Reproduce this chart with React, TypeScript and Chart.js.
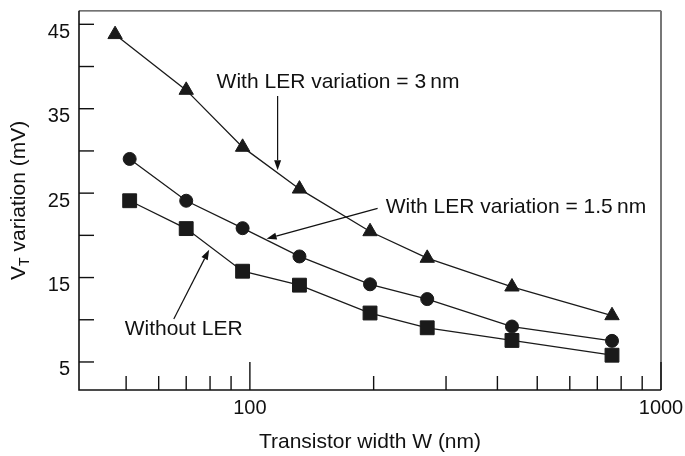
import React, { useEffect, useRef } from "react";
import { Chart, registerables } from "chart.js";

Chart.register(...registerables);

// Transistor widths W (nm)
const widthsTriangle = [47, 70, 96, 132, 196, 270, 434, 760];
const widths = [51, 70, 96, 132, 196, 270, 434, 760];

// VT variation (mV)
const ler3nm = [43.8, 37.2, 30.45, 25.5, 20.45, 17.3, 13.9, 10.5];
const ler15nm = [29.05, 24.1, 20.85, 17.5, 14.2, 12.45, 9.2, 7.5];
const noLer = [24.1, 20.8, 15.75, 14.1, 10.8, 9.05, 7.55, 5.8];

// Axis ticks
const yLabelTicks = [5, 15, 25, 35, 45];
const yMarkTicks = [5, 10, 15, 20, 25, 30, 35, 40, 45];
const xLabelTicks = [100, 1000];
const xMajorMarks = [100, 1000];
const xMinorMarks = [50, 60, 70, 80, 90, 200, 300, 400, 500, 600, 700, 800, 900];

// Annotations (data coordinates)
const noteTexts = ["With LER variation = 3\u2009nm", "With LER variation = 1.5\u2009nm", "Without LER"];
const noteX = [83, 214, 49.6];
const noteY = [38.2, 23.3, 8.85];
const arrowFromX = [116.8, 204.5, 65.3];
const arrowFromY = [36.5, 23.2, 10.1];
const arrowToX = [116.8, 109.8, 79.6];
const arrowToY = [27.7, 19.6, 18.3];

const FONT = '"Liberation Sans", Arial, Helvetica, sans-serif';
const INK = "#111";

function drawArrow(ctx: CanvasRenderingContext2D, x1: number, y1: number, x2: number, y2: number) {
  const ang = Math.atan2(y2 - y1, x2 - x1);
  const L = 10;
  const W = 3.5;
  const bx = x2 - Math.cos(ang) * L;
  const by = y2 - Math.sin(ang) * L;
  ctx.beginPath();
  ctx.moveTo(x1, y1);
  ctx.lineTo(bx, by);
  ctx.stroke();
  ctx.beginPath();
  ctx.moveTo(x2, y2);
  ctx.lineTo(bx - Math.sin(ang) * W, by + Math.cos(ang) * W);
  ctx.lineTo(bx + Math.sin(ang) * W, by - Math.cos(ang) * W);
  ctx.closePath();
  ctx.fill();
}

const decorPlugin = {
  id: "decor",
  afterDraw(chart: any) {
    const { ctx, chartArea: a, scales } = chart;
    const xs = scales.x;
    const ys = scales.y;
    ctx.save();

    // frame
    ctx.lineCap = "butt";
    ctx.strokeStyle = "#444";
    ctx.lineWidth = 1.3;
    ctx.beginPath();
    ctx.moveTo(a.left, a.top);
    ctx.lineTo(a.right, a.top);
    ctx.stroke();
    ctx.strokeStyle = "#777";
    ctx.lineWidth = 2;
    ctx.beginPath();
    ctx.moveTo(a.right, a.top);
    ctx.lineTo(a.right, a.bottom);
    ctx.stroke();
    ctx.strokeStyle = INK;
    ctx.lineWidth = 1.6;
    ctx.beginPath();
    ctx.moveTo(a.left, a.top);
    ctx.lineTo(a.left, a.bottom);
    ctx.lineTo(a.right, a.bottom);
    ctx.stroke();

    // inward tick marks
    ctx.lineWidth = 1.4;
    ctx.strokeStyle = INK;
    for (const v of yMarkTicks) {
      const py = ys.getPixelForValue(v);
      ctx.beginPath();
      ctx.moveTo(a.left, py);
      ctx.lineTo(a.left + 15, py);
      ctx.stroke();
    }
    for (const v of xMajorMarks) {
      const px = xs.getPixelForValue(v);
      ctx.beginPath();
      ctx.moveTo(px, a.bottom);
      ctx.lineTo(px, a.bottom - 28);
      ctx.stroke();
    }
    for (const v of xMinorMarks) {
      const px = xs.getPixelForValue(v);
      ctx.beginPath();
      ctx.moveTo(px, a.bottom);
      ctx.lineTo(px, a.bottom - 14);
      ctx.stroke();
    }

    // annotations
    ctx.fillStyle = INK;
    ctx.font = `21px ${FONT}`;
    ctx.textAlign = "left";
    ctx.textBaseline = "middle";
    noteTexts.forEach((t, i) => {
      ctx.fillText(t, xs.getPixelForValue(noteX[i]), ys.getPixelForValue(noteY[i]));
    });
    ctx.lineWidth = 1.2;
    ctx.strokeStyle = INK;
    arrowFromX.forEach((_, i) => {
      drawArrow(
        ctx,
        xs.getPixelForValue(arrowFromX[i]),
        ys.getPixelForValue(arrowFromY[i]),
        xs.getPixelForValue(arrowToX[i]),
        ys.getPixelForValue(arrowToY[i])
      );
    });

    // x title
    ctx.textAlign = "center";
    ctx.textBaseline = "middle";
    ctx.font = `21px ${FONT}`;
    ctx.fillText("Transistor width W (nm)", (a.left + a.right) / 2, chart.height - 14);

    // y title with subscript
    const cy = (a.top + a.bottom) / 2;
    ctx.save();
    ctx.translate(25, cy);
    ctx.rotate(-Math.PI / 2);
    ctx.textAlign = "left";
    ctx.textBaseline = "alphabetic";
    ctx.font = `21px ${FONT}`;
    const wV = ctx.measureText("V").width;
    const rest = " variation (mV)";
    const wR = ctx.measureText(rest).width;
    ctx.font = `14px ${FONT}`;
    const wT = ctx.measureText("T").width;
    let sx = -(wV + wT + wR) / 2;
    ctx.font = `21px ${FONT}`;
    ctx.fillText("V", sx, 0);
    sx += wV;
    ctx.font = `14px ${FONT}`;
    ctx.fillText("T", sx, 4);
    sx += wT;
    ctx.font = `21px ${FONT}`;
    ctx.fillText(rest, sx, 0);
    ctx.restore();

    ctx.restore();
  },
};

export default function App() {
  const ref = useRef<HTMLCanvasElement | null>(null);

  useEffect(() => {
    if (!ref.current) return;
    const mk = (xsArr: number[], ysArr: number[]) => xsArr.map((x, i) => ({ x, y: ysArr[i] }));
    const common = {
      showLine: true,
      borderColor: "#1a1a1a",
      borderWidth: 1.3,
      backgroundColor: "#1a1a1a",
      pointBackgroundColor: "#1a1a1a",
      pointBorderColor: "#1a1a1a",
      pointBorderWidth: 1,
      tension: 0,
      clip: false as any,
    };
    const chart = new Chart(ref.current, {
      type: "scatter",
      data: {
        datasets: [
          { ...common, label: "With LER variation = 3 nm", data: mk(widthsTriangle, ler3nm), pointStyle: "triangle", pointRadius: 8.3 },
          { ...common, label: "With LER variation = 1.5 nm", data: mk(widths, ler15nm), pointStyle: "circle", pointRadius: 6.5 },
          { ...common, label: "Without LER", data: mk(widths, noLer), pointStyle: "rect", pointRadius: 9.8 },
        ],
      },
      options: {
        responsive: false,
        animation: false,
        devicePixelRatio: 1,
        layout: { padding: { top: 7, right: 24, left: 0, bottom: 0 } },
        plugins: { legend: { display: false }, tooltip: { enabled: false } },
        scales: {
          x: {
            type: "logarithmic",
            min: 38.4,
            max: 1000,
            position: "bottom",
            grid: { display: false, drawTicks: false },
            border: { display: false },
            afterBuildTicks: (s: any) => {
              s.ticks = xLabelTicks.map((v) => ({ value: v }));
            },
            afterFit: (s: any) => {
              s.height = 66;
              s.paddingLeft = 0;
              s.paddingRight = 0;
            },
            ticks: {
              autoSkip: false,
              maxRotation: 0,
              minRotation: 0,
              padding: 6,
              color: INK,
              font: { family: FONT, size: 20 },
              callback: (v: any) => String(v),
            },
          },
          y: {
            type: "linear",
            min: 1.68,
            max: 46.6,
            grid: { display: false, drawTicks: false },
            border: { display: false },
            afterBuildTicks: (s: any) => {
              s.ticks = yLabelTicks.map((v) => ({ value: v }));
            },
            afterFit: (s: any) => {
              s.width = 79;
              s.paddingTop = 0;
              s.paddingBottom = 0;
            },
            ticks: {
              autoSkip: false,
              padding: 9,
              labelOffset: 8,
              color: INK,
              font: { family: FONT, size: 20 },
              callback: (v: any) => String(v),
            },
          },
        },
      },
      plugins: [decorPlugin],
    } as any);
    return () => chart.destroy();
  }, []);

  return (
    <div style={{ position: "absolute", left: 0, top: 0, width: 685, height: 456, background: "#fff" }}>
      <canvas ref={ref} width={685} height={456} style={{ display: "block" }} />
    </div>
  );
}
